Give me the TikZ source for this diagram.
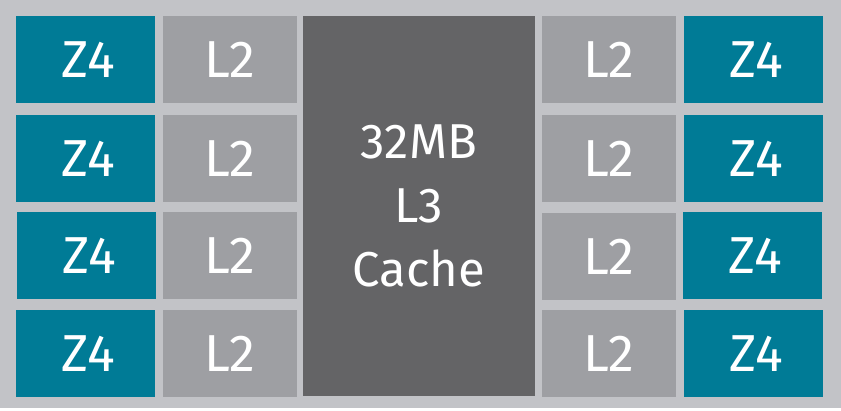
\documentclass[tikz,border=0pt]{standalone}
\usepackage{fontspec}
\setmainfont{Fira Sans}
\definecolor{bgc}{HTML}{C2C3C7}
\definecolor{tealc}{HTML}{007B96}
\definecolor{ltwo}{HTML}{9E9FA3}
\definecolor{lthree}{HTML}{646466}
\newcommand{\zlabel}{\hspace*{6pt}Z4}
\tikzset{
  blk/.style={rectangle, inner sep=0pt, outer sep=0pt, anchor=north west, text=white, font=\fontsize{52}{52}\selectfont},
  core/.style={blk, fill=tealc, minimum width=139pt, minimum height=87pt},
  ltwobox/.style={blk, fill=ltwo, minimum width=134pt, minimum height=87pt},
  lthreebox/.style={blk, fill=lthree, minimum width=232pt, minimum height=380pt, align=center, font=\fontsize{49}{64}\selectfont}
}
\begin{document}
\begin{tikzpicture}[x=1pt,y=-1pt]
\fill[white] (0,0) rectangle (841,411);
\useasboundingbox (0,0) rectangle (841,411);
\fill[bgc] (0,0) rectangle (841,408);
% left column
\node[core] (z1) at (16,16) {\zlabel};
\node[core] (z2) at (16,115) {\zlabel};
\node[core] (z3) at (17,212) {\zlabel};
\node[core] (z4) at (16,310) {\zlabel};
\node[ltwobox] (la1) at (163,16) {L2};
\node[ltwobox] (la2) at (163,115) {L2};
\node[ltwobox] (la3) at (163,212) {L2};
\node[ltwobox] (la4) at (163,310) {L2};
% L3
\node[lthreebox] (l3) at (303,16) {32MB\\L3\\Cache};
% right column
\node[ltwobox] (lb1) at (542,16) {L2};
\node[ltwobox] (lb2) at (542,115) {L2};
\node[ltwobox] (lb3) at (542,213) {L2};
\node[ltwobox] (lb4) at (542,310) {L2};
\node[core] (zb1) at (684,16) {\zlabel};
\node[core] (zb2) at (684,115) {\zlabel};
\node[core] (zb3) at (683,212) {\zlabel};
\node[core] (zb4) at (684,310) {\zlabel};
\end{tikzpicture}
\end{document}
